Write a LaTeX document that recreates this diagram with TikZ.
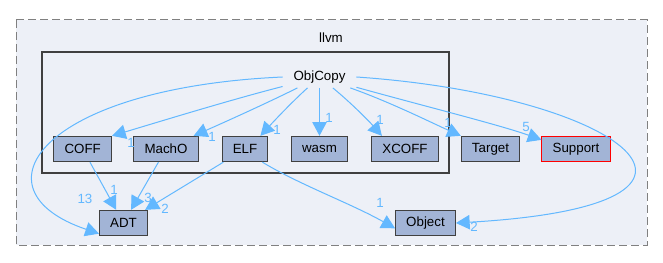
\documentclass[tikz,border=0pt]{standalone}
\usepackage{fontspec}
\setmainfont{Liberation Sans}
\usetikzlibrary{arrows.meta}

\definecolor{clusterbg}{HTML}{EDF0F7}
\definecolor{dirfill}{HTML}{A2B4D6}
\definecolor{depblue}{HTML}{63B8FF}

\begin{document}
\begin{tikzpicture}[x=0.75pt,y=-0.75pt,
      dir/.style={rectangle,draw=black!75,fill=dirfill,line width=0.75pt,
        minimum height=19pt,inner xsep=8pt,inner ysep=0pt},
      dep/.style={draw=depblue,line width=0.75pt,
        -{Triangle[scale length=2.2,scale width=2]}},
      cnt/.style={text=depblue,inner sep=0pt}]
      \tikzstyle{every node}=[font=\fontsize{10}{12}\selectfont]
      \useasboundingbox (0,0) rectangle (663,263);
      % outer and inner directory boxes
      \draw[dashed,draw=black!50,fill=clusterbg,line width=0.75pt,
        dash pattern=on 6pt off 3pt] (16,20) rectangle (647,245);
      \node[inner sep=0pt] (llvm) at (331,38) {llvm};
      \draw[draw=black!75,fill=clusterbg,line width=1.5pt]
        (42,52) rectangle (449,173);
      \node[minimum width=55pt,minimum height=16pt,inner sep=0pt]
        (cp) at (319.5,77) {ObjCopy}; %top
      % row inside ObjCopy
      \node[dir] (coff) at (82.7,149) {COFF};
      \node[dir] (macho) at (166,149) {MachO};
      \node[dir] (elf) at (245,149) {ELF};
      \node[dir] (wasm) at (319.5,149) {wasm};
      \node[dir] (xcoff) at (405,149) {XCOFF};
      % siblings
      \node[dir] (target) at (490.5,149) {Target};
      \node[dir,draw=red] (support) at (576,149) {Support};
      \node[dir] (adt) at (123.5,223) {ADT};
      \node[dir] (object) at (425.5,223) {Object};
      % edges out of ObjCopy
      \draw[dep] (cp) .. controls (230,100) and (165,120) .. (coff.north east);
      \draw[dep] (cp) .. controls (265,104) and (225,122)
        .. ([xshift=-3.75pt]macho.north east);
      \draw[dep] (cp) .. controls (292,102) and (275,120)
        .. ([xshift=-6pt]elf.north east);
      \draw[dep] (cp) -- (wasm);
      \draw[dep] (cp) .. controls (350,102) and (368,120)
        .. ([xshift=8pt]xcoff.north west);
      \draw[dep] (cp) .. controls (390,102) and (430,122) .. (target.north west);
      \draw[dep] (cp) .. controls (420,105) and (500,125)
        .. ([yshift=-3pt]support.north west);
      \draw[dep] (cp.east) .. controls (620,95) and (770,205) .. (object.east);
      \draw[dep] (cp.west) .. controls (40,88) and (-30,190)
        .. ([yshift=-8pt]adt.west);
      % edges into ADT and Object
      \draw[dep] (coff) -- (adt);
      \draw[dep] (macho) -- (adt);
      \draw[dep] (elf) -- (adt);
      \draw[dep] ([xshift=-4.5pt]elf.south east) .. controls (300,185) and (350,203)
        .. ([yshift=-4pt]object.west);
      % counts
      \node[cnt] (n1) at (131,143) {1};
      \node[cnt] (n2) at (212,137) {1};
      \node[cnt] (n3) at (277,130) {1};
      \node[cnt] (n4) at (329,118) {1};
      \node[cnt] (n5) at (380,120) {1};
      \node[cnt] (n6) at (448,123) {1};
      \node[cnt] (n7) at (526,127) {5};
      \node[cnt] (n8) at (474,227) {2};
      \node[cnt] (n9) at (85,199) {13};
      \node[cnt] (n10) at (114,190) {1};
      \node[cnt] (n11) at (148,198) {3};
      \node[cnt] (n12) at (165,209) {2};
      \node[cnt] (n13) at (380,203) {1};
    \end{tikzpicture}
\end{document}
